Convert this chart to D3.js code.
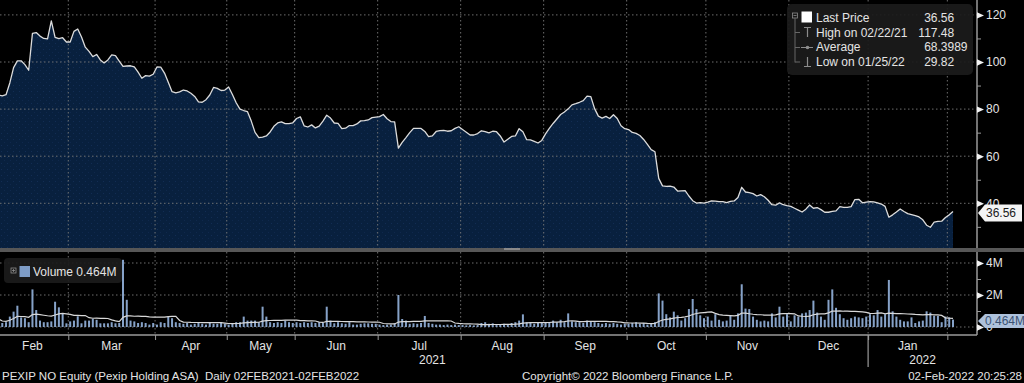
<!DOCTYPE html>
<html>
<head>
<meta charset="utf-8">
<script src="https://cdn.jsdelivr.net/npm/d3@7"></script>
<style>
  html, body { margin: 0; padding: 0; background: #000; }
  svg { display: block; }
  text { font-family: "Liberation Sans", Arial, sans-serif; }
</style>
</head>
<body>
<svg id="chart" width="1024" height="383"></svg>
<script>
// --- DATA (one value per trading day, 02 Feb 2021 .. 02 Feb 2022) ---
const monthLabels = ['Feb', 'Mar', 'Apr', 'May', 'Jun', 'Jul', 'Aug', 'Sep', 'Oct', 'Nov', 'Dec', 'Jan'];
// index of the first trading day of each month (last entry = Feb 2022)
const monthStarts = [0, 19, 42, 61, 79, 101, 123, 145, 167, 188, 210, 231, 252];
const yearLabels = ['2021', '2022'];
const priceTicks = [40, 60, 80, 100, 120];
const priceMinorTicks = [30, 50, 70, 90, 110];
const volumeTicks = [0, 2, 4];
const volumeMinorTicks = [1, 3];

const prices = [
    86.0, 85.6, 86.1, 91.1, 97.6, 100.5, 100.5, 98.9, 96.5, 112.2,
    112.5, 111.0, 110.0, 109.8, 117.48, 110.5, 109.9, 110.3, 108.5, 108.5,
    113.0, 114.0, 110.6, 106.3, 104.5, 102.3, 103.2, 100.9, 99.6, 100.9,
    103.0, 102.7, 100.4, 98.1, 98.3, 98.4, 97.9, 95.7, 93.1, 94.2,
    94.0, 94.8, 97.9, 97.8, 95.3, 91.4, 87.4, 86.9, 87.3, 88.1,
    87.7, 86.7, 85.4, 83.1, 82.9, 84.0, 86.0, 89.2, 88.8, 87.9,
    88.1, 89.4, 86.2, 82.7, 80.0, 79.4, 78.9, 74.9, 70.1, 67.9,
    68.1, 68.6, 70.3, 72.7, 74.1, 74.6, 73.8, 73.8, 74.2, 76.0,
    76.7, 72.9, 72.4, 73.3, 72.0, 72.8, 74.9, 77.4, 76.2, 74.1,
    73.9, 71.7, 71.9, 73.0, 73.0, 73.7, 75.0, 75.1, 75.4, 76.4,
    76.6, 76.8, 77.7, 75.9, 74.7, 74.6, 63.4, 65.9, 67.9, 70.0,
    71.8, 71.8, 71.8, 70.5, 68.3, 68.6, 70.5, 70.9, 71.0, 70.6,
    70.8, 71.8, 72.5, 71.3, 70.2, 69.0, 69.0, 69.6, 70.8, 70.4,
    69.9, 70.6, 70.4, 68.6, 66.0, 67.2, 68.4, 68.6, 71.7, 70.4,
    67.0, 66.9, 66.3, 65.6, 66.7, 69.5, 71.8, 73.9, 75.8, 77.7,
    78.8, 80.1, 81.8, 82.3, 82.9, 83.6, 85.5, 85.3, 80.2, 77.0,
    76.2, 76.9, 76.0, 77.6, 76.0, 72.9, 71.7, 71.3, 70.1, 69.7,
    68.8, 67.1, 65.0, 62.8, 61.9, 50.6, 47.4, 47.2, 47.3, 46.9,
    45.2, 45.3, 45.4, 43.1, 41.1, 40.1, 40.3, 40.1, 40.5, 41.0,
    40.9, 40.7, 40.7, 40.3, 40.8, 41.0, 42.5, 46.8, 44.8, 44.5,
    44.1, 43.1, 43.7, 42.8, 41.3, 39.4, 39.2, 40.2, 39.4, 39.0,
    38.7, 37.9, 37.1, 36.3, 37.5, 39.3, 37.9, 38.2, 37.3, 36.2,
    36.2, 36.6, 36.8, 38.6, 38.3, 38.3, 38.6, 41.6, 41.7, 40.2,
    40.5, 40.7, 40.6, 40.2, 39.7, 38.7, 34.1, 35.1, 36.3, 37.6,
    36.5, 35.6, 35.2, 34.8, 34.2, 33.0, 30.7, 29.82, 32.0, 32.3,
    32.4, 34.0, 35.1, 36.56
];

// daily volume, millions of shares
const volumes = [
    0.5, 0.25, 0.3, 0.65, 0.96, 1.33, 0.6, 0.55, 0.3, 2.35,
    1.06, 0.4, 0.3, 0.3, 0.35, 1.58, 1.23, 0.85, 0.23, 0.35,
    0.4, 0.67, 0.23, 0.4, 0.4, 0.5, 0.45, 0.23, 0.23, 0.23,
    0.3, 0.23, 0.25, 4.2, 1.7, 0.4, 0.35, 0.25, 0.3, 0.25,
    0.15, 0.25, 0.15, 0.3, 0.25, 0.65, 0.55, 0.3, 0.25, 0.2,
    0.25, 0.15, 0.2, 0.3, 0.2, 0.15, 0.25, 0.2, 0.2, 0.3,
    0.2, 0.15, 0.25, 0.3, 0.3, 0.65, 0.4, 0.4, 0.4, 0.3,
    1.27, 0.65, 0.3, 0.25, 0.3, 0.25, 0.4, 0.3, 0.25, 0.3,
    0.25, 0.3, 0.25, 0.3, 0.25, 0.3, 0.25, 1.27, 0.4, 0.23,
    0.3, 0.23, 0.2, 0.3, 0.15, 0.15, 0.2, 0.23, 0.23, 0.2,
    0.2, 0.15, 0.12, 0.15, 0.15, 0.23, 2.0, 0.5, 0.4, 0.2,
    0.23, 0.2, 0.25, 0.69, 0.25, 0.2, 0.15, 0.15, 0.12, 0.15,
    0.12, 0.15, 0.12, 0.12, 0.1, 0.12, 0.1, 0.12, 0.25, 0.3,
    0.2, 0.23, 0.12, 0.15, 0.2, 0.15, 0.25, 0.3, 0.4, 0.79,
    0.3, 0.25, 0.2, 0.25, 0.3, 0.25, 0.3, 0.4, 0.3, 0.45,
    0.3, 0.85, 0.35, 0.3, 0.3, 0.25, 0.4, 0.35, 0.3, 0.25,
    0.2, 0.25, 0.2, 0.25, 0.2, 0.15, 0.2, 0.2, 0.25, 0.3,
    0.2, 0.25, 0.15, 0.2, 0.3, 2.1, 1.65, 0.8, 0.6, 0.96,
    0.73, 0.4, 0.55, 1.12, 1.75, 1.12, 0.73, 0.55, 0.65, 0.4,
    0.8, 0.45, 0.35, 0.4, 0.73, 0.45, 0.85, 2.67, 1.15, 1.12,
    0.65, 0.45, 0.35, 0.4, 0.35, 0.85, 0.6, 1.27, 0.65, 0.8,
    0.35, 0.73, 0.65, 0.85, 0.9, 1.06, 1.65, 0.9, 0.65, 0.45,
    1.7, 2.35, 1.2, 0.8, 0.55, 0.45, 0.55, 0.65, 0.6, 0.55,
    0.65, 0.8, 0.73, 1.06, 0.65, 0.8, 2.94, 0.98, 0.65, 0.45,
    0.35, 0.35, 0.6, 0.25, 0.35, 0.4, 0.98, 0.9, 0.7, 0.7,
    0.3, 0.65, 0.6, 0.464
];

const legendLabels = ['Last Price', 'High on 02/22/21', 'Average', 'Low on 01/25/22'];
const legendValues = ['36.56', '117.48', '68.3989', '29.82'];
const volumeMaWindow = 15;

document.addEventListener('DOMContentLoaded', () => {
    const svg = d3.select('#chart');
    const axisX = 977;
    const priceBottom = 248;
    const volTop = 252;
    const volBottom = 335;
    const gridColor = '#7a7a7a';
    const textColor = '#e4e4e4';

    const x = d3.scaleLinear().domain([0, prices.length - 1]).range([-1.5, 953]);
    const y = d3.scaleLinear().domain([0, 120]).range([297.5, 14.9]);
    const yv = d3.scaleLinear().domain([0, 4]).range([327, 263]);

    svg.append('rect').attr('width', 1024).attr('height', 383).attr('fill', '#000');

    const defs = svg.append('defs');
    defs.append('clipPath').attr('id', 'price-clip')
        .append('rect').attr('x', 0).attr('y', 0).attr('width', axisX).attr('height', priceBottom);
    const dots = defs.append('pattern').attr('id', 'dots')
        .attr('width', 6).attr('height', 6).attr('patternUnits', 'userSpaceOnUse');
    dots.append('rect').attr('width', 6).attr('height', 6).attr('fill', '#08203e');
    dots.append('rect').attr('x', 1).attr('y', 1).attr('width', 1).attr('height', 1).attr('fill', '#122d54');
    dots.append('rect').attr('x', 4).attr('y', 4).attr('width', 1).attr('height', 1).attr('fill', '#0f284c');

    // --- PRICE PANEL ---
    const price = svg.append('g').attr('clip-path', 'url(#price-clip)');
    price.append('path')
        .datum(prices)
        .attr('fill', 'url(#dots)')
        .attr('d', d3.area().x((d, i) => x(i)).y0(priceBottom).y1(d => y(d)));

    const gridX = monthStarts.slice(1).map(d => x(d - 0.5));

    price.selectAll('.hgrid')
        .data(priceTicks)
        .enter().append('line')
        .attr('x1', 0).attr('x2', axisX)
        .attr('y1', d => y(d)).attr('y2', d => y(d))
        .attr('stroke', gridColor).attr('stroke-width', 1)
        .attr('stroke-dasharray', '1.5,2.5').attr('opacity', 0.9);
    price.selectAll('.vgrid')
        .data(gridX)
        .enter().append('line')
        .attr('x1', d => d).attr('x2', d => d)
        .attr('y1', 0).attr('y2', priceBottom)
        .attr('stroke', gridColor).attr('stroke-width', 1)
        .attr('stroke-dasharray', '1.5,2.5').attr('opacity', 0.9);

    price.append('path')
        .datum(prices)
        .attr('fill', 'none')
        .attr('stroke', '#dcdcdc')
        .attr('stroke-width', 1.3)
        .attr('stroke-linejoin', 'round')
        .attr('d', d3.line().x((d, i) => x(i)).y(d => y(d)));

    // panel separator
    svg.append('rect').attr('x', 0).attr('y', priceBottom).attr('width', 1024).attr('height', volTop - priceBottom)
        .attr('fill', '#575757');
    svg.append('rect').attr('x', 504).attr('y', priceBottom).attr('width', 16).attr('height', 2)
        .attr('fill', '#8a8a8a');

    // --- VOLUME PANEL ---
    const vol = svg.append('g');
    vol.selectAll('.vhgrid')
        .data(volumeTicks)
        .enter().append('line')
        .attr('x1', 0).attr('x2', axisX)
        .attr('y1', d => yv(d)).attr('y2', d => yv(d))
        .attr('stroke', gridColor).attr('stroke-dasharray', '1.5,2.5').attr('opacity', 0.9);
    vol.selectAll('.vvgrid')
        .data(gridX)
        .enter().append('line')
        .attr('x1', d => d).attr('x2', d => d)
        .attr('y1', volTop).attr('y2', volBottom)
        .attr('stroke', gridColor).attr('stroke-dasharray', '1.5,2.5').attr('opacity', 0.9);

    vol.selectAll('.bar')
        .data(volumes)
        .enter().append('rect')
        .attr('class', 'bar')
        .attr('x', (d, i) => x(i) - 1)
        .attr('y', d => yv(d))
        .attr('width', 2)
        .attr('height', d => yv(0) - yv(d))
        .attr('fill', '#86a2c8');

    const volumeMa = volumes.map((d, i) => d3.mean(volumes.slice(Math.max(0, i - volumeMaWindow + 1), i + 1)));
    vol.append('path')
        .datum(volumeMa)
        .attr('fill', 'none')
        .attr('stroke', '#d8d8d8')
        .attr('stroke-width', 1.2)
        .attr('d', d3.line().x((d, i) => x(i)).y(d => yv(d)));

    // --- AXES ---
    svg.append('line').attr('x1', axisX).attr('x2', axisX).attr('y1', 0).attr('y2', priceBottom)
        .attr('stroke', '#9a9a9a').attr('stroke-width', 1.5);
    svg.append('line').attr('x1', axisX).attr('x2', axisX).attr('y1', volTop).attr('y2', volBottom)
        .attr('stroke', '#9a9a9a').attr('stroke-width', 1.5);
    svg.append('line').attr('x1', 0).attr('x2', axisX).attr('y1', volBottom).attr('y2', volBottom)
        .attr('stroke', '#9a9a9a').attr('stroke-width', 1.6);

    const styleAxis = (g) => {
        g.select('.domain').remove();
        g.selectAll('line').attr('stroke', '#9a9a9a');
        g.selectAll('text').attr('fill', textColor).style('font-size', '12px')
            .style('font-family', '"Liberation Sans", Arial, sans-serif');
    };
    const addMarkers = (g) => {
        g.selectAll('.tick').append('path')
            .attr('d', 'M0,-3.2L7,0L0,3.2Z')
            .attr('fill', '#f2f2f2');
    };

    svg.append('g').attr('transform', `translate(${axisX},0)`)
        .call(d3.axisRight(y).tickValues(priceMinorTicks).tickSize(4).tickFormat(''))
        .call(styleAxis);
    svg.append('g').attr('transform', `translate(${axisX},0)`)
        .call(d3.axisRight(y).tickValues(priceTicks).tickSize(0).tickPadding(9))
        .call(styleAxis).call(addMarkers);

    svg.append('g').attr('transform', `translate(${axisX},0)`)
        .call(d3.axisRight(yv).tickValues(volumeMinorTicks).tickSize(4).tickFormat(''))
        .call(styleAxis);
    svg.append('g').attr('transform', `translate(${axisX},0)`)
        .call(d3.axisRight(yv).tickValues(volumeTicks).tickSize(0).tickPadding(9)
            .tickFormat(d => d === 0 ? '0' : d + 'M'))
        .call(styleAxis).call(addMarkers);

    svg.append('g').attr('transform', `translate(0,${volBottom})`)
        .call(d3.axisBottom(x).tickValues(monthStarts.slice(1).map(d => d - 0.5)).tickSize(5).tickFormat(''))
        .call(styleAxis);

    // month and year labels
    const bounds = monthStarts.map(d => x(d - 0.5));
    svg.selectAll('.month')
        .data(monthLabels)
        .enter().append('text')
        .attr('x', (d, i) => (bounds[i] + bounds[i + 1]) / 2)
        .attr('y', 350)
        .attr('text-anchor', 'middle')
        .attr('fill', textColor)
        .style('font-size', '12px')
        .text(d => d);

    const janX = x(monthStarts[11] - 0.5);
    const yearCenters = [(bounds[0] + janX) / 2, (janX + axisX) / 2];
    svg.selectAll('.year')
        .data(yearLabels)
        .enter().append('text')
        .attr('x', (d, i) => yearCenters[i])
        .attr('y', 364)
        .attr('text-anchor', 'middle')
        .attr('fill', textColor)
        .style('font-size', '12px')
        .text(d => d);
    svg.append('line').attr('x1', janX).attr('x2', janX).attr('y1', volBottom).attr('y2', 367)
        .attr('stroke', '#9a9a9a').attr('stroke-width', 1.2);

    // --- LAST VALUE TAGS ---
    const lastPrice = prices[prices.length - 1];
    const py = y(lastPrice) + 1.5;
    svg.append('path')
        .attr('d', `M978,${py}L985,${py - 8.5}L1022,${py - 8.5}L1022,${py + 8.5}L985,${py + 8.5}Z`)
        .attr('fill', '#f4f4f4');
    svg.append('text').attr('x', 986).attr('y', py + 4.3)
        .attr('fill', '#1a1a1a').style('font-size', '12px').text(lastPrice.toFixed(2));

    const lastVol = volumes[volumes.length - 1];
    const vy = yv(lastVol) + 1.5;
    svg.append('path')
        .attr('d', `M978,${vy}L985,${vy - 7}L1024,${vy - 7}L1024,${vy + 7}L985,${vy + 7}Z`)
        .attr('fill', '#aec2dc');
    svg.append('text').attr('x', 985).attr('y', vy + 4.2)
        .attr('fill', '#3b5273').style('font-size', '12px').text(lastVol.toFixed(3) + 'M');

    // --- PRICE LEGEND ---
    const legend = svg.append('g');
    legend.append('rect').attr('x', 787).attr('y', 4).attr('width', 186).attr('height', 71).attr('rx', 5)
        .attr('fill', '#1b1b1b').attr('opacity', 0.92);
    const rowY = [22, 36.7, 51.3, 66];
    const iconColor = '#8c8c8c';
    legend.append('rect').attr('x', 792.5).attr('y', 13).attr('width', 5).attr('height', 5)
        .attr('fill', 'none').attr('stroke', iconColor).attr('stroke-width', 0.8);
    legend.append('line').attr('x1', 793.5).attr('x2', 796.5).attr('y1', 15.5).attr('y2', 15.5)
        .attr('stroke', iconColor).attr('stroke-width', 0.8);
    legend.append('line').attr('x1', 795).attr('x2', 795).attr('y1', 18).attr('y2', 62.5)
        .attr('stroke', '#666');
    [32.5, 47.5, 62].forEach(ly => {
        legend.append('line').attr('x1', 795).attr('x2', 800).attr('y1', ly).attr('y2', ly).attr('stroke', '#666');
    });
    legend.append('rect').attr('x', 801.5).attr('y', 11.5).attr('width', 10.5).attr('height', 11).attr('fill', '#fff');
    // high marker
    legend.append('path').attr('d', 'M804,27.5H811M807.5,27.5V37').attr('stroke', iconColor).attr('stroke-width', 1.2).attr('fill', 'none');
    // average marker
    legend.append('line').attr('x1', 801).attr('x2', 813).attr('y1', 47.5).attr('y2', 47.5).attr('stroke', iconColor);
    legend.append('circle').attr('cx', 807.5).attr('cy', 47.5).attr('r', 1.8).attr('fill', iconColor);
    // low marker
    legend.append('path').attr('d', 'M807.5,57V66.5M804,66.5H811').attr('stroke', iconColor).attr('stroke-width', 1.2).attr('fill', 'none');

    legend.selectAll('.llabel')
        .data(legendLabels)
        .enter().append('text')
        .attr('x', 816).attr('y', (d, i) => rowY[i])
        .attr('fill', textColor).style('font-size', '12px')
        .text(d => d);
    // values aligned on the decimal point
    legend.selectAll('.lint')
        .data(legendValues)
        .enter().append('text')
        .attr('x', 937.5).attr('y', (d, i) => rowY[i])
        .attr('text-anchor', 'end')
        .attr('fill', textColor).style('font-size', '12px')
        .text(d => d.split('.')[0]);
    legend.selectAll('.lfrac')
        .data(legendValues)
        .enter().append('text')
        .attr('x', 937.5).attr('y', (d, i) => rowY[i])
        .attr('fill', textColor).style('font-size', '12px')
        .text(d => '.' + d.split('.')[1]);

    // --- VOLUME LEGEND ---
    svg.append('rect').attr('x', 4).attr('y', 258).attr('width', 118).attr('height', 25).attr('rx', 4)
        .attr('fill', '#1b1b1b').attr('opacity', 0.92);
    svg.append('rect').attr('x', 11).attr('y', 268).attr('width', 5).attr('height', 5)
        .attr('fill', 'none').attr('stroke', iconColor).attr('stroke-width', 0.8);
    svg.append('path').attr('d', 'M12,270.5H15M13.5,269V272').attr('stroke', iconColor).attr('stroke-width', 0.8);
    svg.append('rect').attr('x', 19.5).attr('y', 266).attr('width', 10.5).attr('height', 11).attr('fill', '#7e9cc6');
    svg.append('text').attr('x', 33).attr('y', 276).attr('fill', textColor).style('font-size', '12px')
        .text('Volume ' + lastVol.toFixed(3) + 'M');

    // --- FOOTER ---
    const footer = [
        { text: 'PEXIP NO Equity (Pexip Holding ASA)  Daily 02FEB2021-02FEB2022', x: 2, anchor: 'start' },
        { text: 'Copyright\u00A9 2022 Bloomberg Finance L.P.', x: 522, anchor: 'start' },
        { text: '02-Feb-2022 20:25:28', x: 1022, anchor: 'end' }
    ];
    svg.selectAll('.footer')
        .data(footer)
        .enter().append('text')
        .attr('x', d => d.x).attr('y', 380)
        .attr('text-anchor', d => d.anchor)
        .attr('fill', textColor)
        .style('font-size', '11.5px')
        .style('white-space', 'pre')
        .attr('xml:space', 'preserve')
        .text(d => d.text);
});
</script>
</body>
</html>
